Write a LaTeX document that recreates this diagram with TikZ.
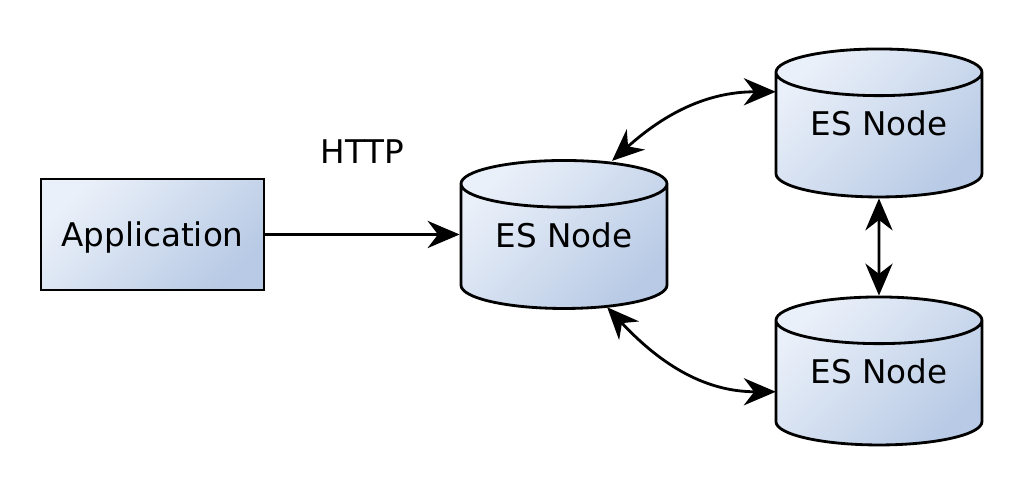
\documentclass[tikz,border=0pt]{standalone}
\usepackage{fontspec}
\setmainfont{DejaVu Sans}
\definecolor{EsLight}{RGB}{234, 240, 249}
\definecolor{EsDark}{RGB}{184, 202, 229}
\usetikzlibrary{arrows.meta, positioning, shapes.geometric}

\begin{document}
\begin{tikzpicture}
        \tikzstyle{appbox} = [rectangle, minimum width=2.7875cm, minimum height=1.3875cm, text depth=0pt, draw, line width=1pt, top color=EsLight, bottom color=EsDark, shading angle=45, font=\fontsize{11.6}{14}\selectfont]
        \tikzstyle{esnode} = [cylinder, shape border rotate=90, aspect=0.3, minimum width=2.575cm, minimum height=1.85cm, text depth=0.415cm, anchor=shape center, draw, line width=1pt, top color=EsLight, bottom color=EsDark, shading angle=45, font=\fontsize{11.6}{14}\selectfont]
        \tikzstyle{arrow} = [line width=1pt, -{Stealth[length=0.4cm, width=0.34cm]}]
        \tikzstyle{biarrow} = [line width=1pt, {Stealth[length=0.4cm, width=0.34cm]}-{Stealth[length=0.4cm, width=0.34cm]}]

        \useasboundingbox (-1.906,2.931) rectangle (10.894,-3.256);

        % Nodes
        \node (app) [appbox] at (0,0) {Application};
        \node (esmain) [esnode] at (5.144,0) {ES Node};
        \node (estop) [esnode] at (9.081,1.394) {ES Node};
        \node (esbot) [esnode] at (9.081,-1.706) {ES Node};

        % Arrows
        \draw [arrow] (app) -- node[midway, yshift=1.0375cm, font=\fontsize{11.6}{14}\selectfont] {HTTP} (app -| esmain.west);
        \draw [biarrow] ([shift={(0.6,0.92)}]esmain.shape center) to[out=42, in=180] ([shift={(-1.29,0.39)}]estop.shape center);
        \draw [biarrow] ([shift={(0.54,-0.91)}]esmain.shape center) to[out=-47, in=180] ([shift={(-1.29,-0.26)}]esbot.shape center);
        \draw [biarrow] (estop.south) -- (esbot.north);
    \end{tikzpicture}
\end{document}
